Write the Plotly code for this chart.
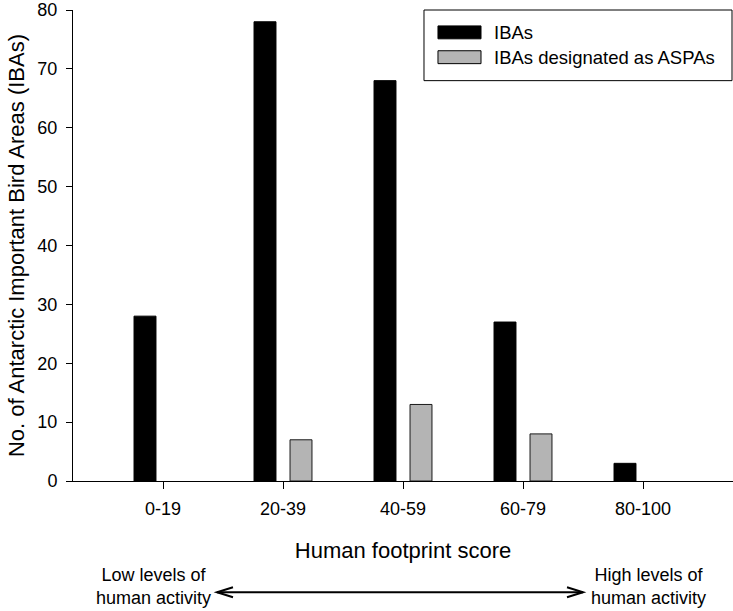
import plotly.graph_objects as go

# Datos
categorias = ["0-19", "20-39", "40-59", "60-79", "80-100"]
ibas = [28, 78, 68, 27, 3]
ibas_aspa = [0, 7, 13, 8, 0]
nombres = ["IBAs", "IBAs designated as ASPAs"]
colores = ["#000000", "#b4b4b4"]

FUENTE = "Liberation Sans, Arial, sans-serif"

fig = go.Figure()
fig.add_trace(go.Bar(
    x=categorias, y=ibas, name=nombres[0],
    marker=dict(color=colores[0], line=dict(color="#000000", width=1)),
))
# sin contorno en las barras de valor cero
fig.add_trace(go.Bar(
    x=categorias, y=ibas_aspa, name=nombres[1],
    marker=dict(color=colores[1],
                line=dict(color="#1a1a1a", width=[1 if v else 0 for v in ibas_aspa])),
))

fig.update_layout(
    width=733, height=611,
    margin=dict(l=73, r=0, t=7, b=130),
    plot_bgcolor="white", paper_bgcolor="white",
    barmode="group", bargap=0.4, bargroupgap=0.39,
    showlegend=False,
    font=dict(family=FUENTE, size=18, color="#000000"),
    xaxis=dict(
        type="category", range=[-0.75, 4.75],
        showline=True, linecolor="#000000", linewidth=1,
        ticks="outside", ticklen=7, tickcolor="#000000",
        showgrid=False, zeroline=False,
        tickfont=dict(size=18), ticklabelstandoff=4,
        title=dict(text="Human footprint score", font=dict(size=22), standoff=25),
    ),
    yaxis=dict(
        range=[0, 80], tickvals=list(range(0, 81, 10)),
        showline=True, linecolor="#000000", linewidth=1,
        ticks="outside", ticklen=6, tickcolor="#000000",
        showgrid=False, zeroline=False,
        tickfont=dict(size=18), ticklabelstandoff=5, ticklabeloverflow="allow",
        title=dict(text="No. of Antarctic Important Bird Areas (IBAs)",
                   font=dict(size=22), standoff=6),
    ),
)

# Leyenda dibujada a mano (caja, muestras y textos)
fig.add_shape(type="rect", xref="paper", yref="paper",
              x0=0.5318, x1=0.9985, y0=0.850, y1=1.0,
              line=dict(color="#000000", width=1), fillcolor="white")
filas = [(0.9662, 0.9388), (0.9135, 0.8861)]
for (y1, y0), nombre, color in zip(filas, nombres, colores):
    fig.add_shape(type="rect", xref="paper", yref="paper",
                  x0=0.5530, x1=0.6182, y0=y0, y1=y1,
                  line=dict(color="#000000", width=1), fillcolor=color)
    fig.add_annotation(x=0.6348, y=(y0 + y1) / 2, xref="paper", yref="paper",
                       text=nombre, showarrow=False, xanchor="left", yanchor="middle",
                       font=dict(size=18.5))

# Flecha doble de actividad humana
y_flecha = -0.2363
x_izq, x_der = 0.2182, 0.7727
dx, dy = 0.0242, 0.01055
fig.add_shape(type="line", xref="paper", yref="paper",
              x0=x_izq, x1=x_der, y0=y_flecha, y1=y_flecha,
              line=dict(color="#000000", width=2))
fig.add_shape(type="path", xref="paper", yref="paper",
              path=f"M {x_izq+dx} {y_flecha+dy} L {x_izq} {y_flecha} L {x_izq+dx} {y_flecha-dy}",
              line=dict(color="#000000", width=2))
fig.add_shape(type="path", xref="paper", yref="paper",
              path=f"M {x_der-dx} {y_flecha+dy} L {x_der} {y_flecha} L {x_der-dx} {y_flecha-dy}",
              line=dict(color="#000000", width=2))

# Textos de los extremos, pegados al borde inferior
textos = [("Low levels of<br>human activity", 0.1227),
          ("High levels of<br>human activity", 0.872)]
for texto, xpos in textos:
    fig.add_annotation(x=xpos, y=-0.2743, xref="paper", yref="paper",
                       text=texto, showarrow=False,
                       xanchor="center", yanchor="bottom", font=dict(size=18))

# Sin margen del body para que la figura ocupe la ventana entera
fig.write_html("out.html", config={"displayModeBar": False},
               post_script="document.body.style.margin='0';"
               "document.body.style.overflow='hidden';")
